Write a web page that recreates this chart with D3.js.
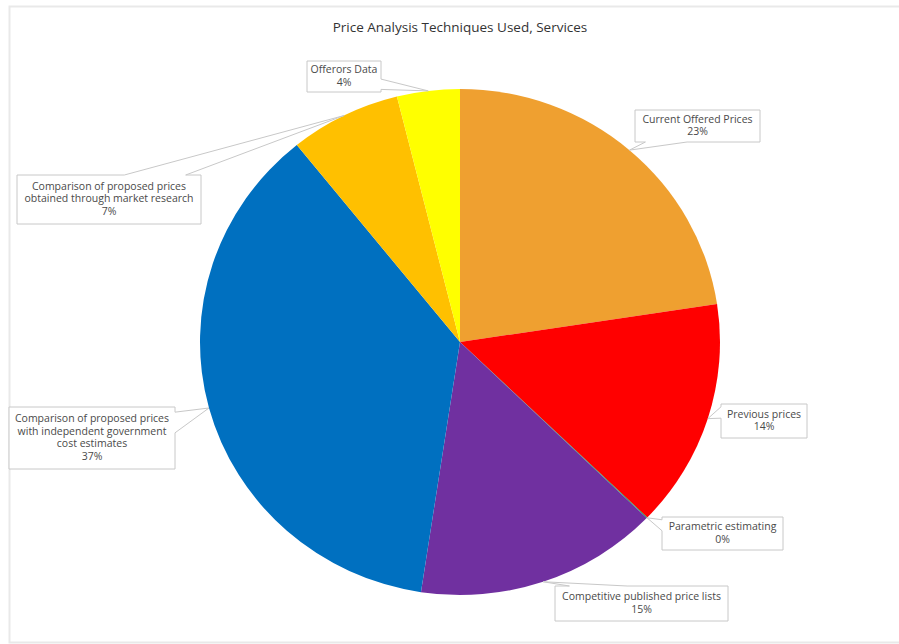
<!DOCTYPE html>
<html lang="en">
	<head>
		<meta charset="utf-8">
		<title>Price Analysis Techniques Used, Services</title>
		<script type="text/javascript" src="https://d3js.org/d3.v7.min.js"></script>
		<style type="text/css">
			body { margin: 0; background: #fff; }
			text { font-family: "Open Sans", "Liberation Sans", sans-serif; }
		</style>
	</head>
	<body>
		<script type="text/javascript">

			// data, clockwise from 12 o'clock
			var categories = ["Current Offered Prices", "Previous prices", "Parametric estimating",
				"Competitive published price lists",
				"Comparison of proposed prices with independent government cost estimates",
				"Comparison of proposed prices obtained through market research", "Offerors Data"];
			var values = [22.6, 14.6, 0.05, 15.15, 36.8, 6.9, 3.9];
			var colors = ["#EFA030", "#FF0000", "#00B050", "#7030A0", "#0070C0", "#FFC000", "#FFFF00"];
			var labelLines = [
				["Current Offered Prices"],
				["Previous prices"],
				["Parametric estimating"],
				["Competitive published price lists"],
				["Comparison of proposed prices", "with independent government", "cost estimates"],
				["Comparison of proposed prices", "obtained through market research"],
				["Offerors Data"]
			];
			var pctLabels = ["23%", "14%", "0%", "15%", "37%", "7%", "4%"];

			// label box layout [x, y, w, h]
			var boxes = [
				[635, 110, 125, 32],
				[721, 404, 86, 34],
				[662, 517, 121, 33],
				[555, 586, 173, 35],
				[9, 407, 166, 62],
				[17, 175, 184, 49],
				[307, 61, 74, 31]
			];

			var w = 899, h = 644;
			var cx = 460, cy = 342, rx = 260, ry = 253;

			var svg = d3.select("body").append("svg")
				.attr("width", w)
				.attr("height", h);

			svg.append("rect")
				.attr("x", 9.5).attr("y", 6.5)
				.attr("width", 900).attr("height", 636)
				.attr("fill", "none")
				.attr("stroke", "#e9e9e9")
				.attr("stroke-width", 2);

			svg.append("text")
				.attr("x", cx).attr("y", 32)
				.attr("text-anchor", "middle")
				.attr("font-size", "13.5px")
				.attr("fill", "#333")
				.text("Price Analysis Techniques Used, Services");

			var pie = d3.pie().sort(null).value(function(d) { return d; });
			var arcs = pie(values);
			var arc = d3.arc().innerRadius(0).outerRadius(ry);

			var g = svg.append("g")
				.attr("transform", "translate(" + cx + "," + cy + ") scale(" + (rx / ry) + ",1)");

			g.selectAll("path")
				.data(arcs)
				.enter()
				.append("path")
				.attr("d", arc)
				.attr("fill", function(d, i) { return colors[i]; });

			// tip of each callout: slice mid angle on the outer edge
			function tip(d) {
				var a = (d.startAngle + d.endAngle) / 2;
				return [cx + rx * Math.sin(a), cy - ry * Math.cos(a)];
			}

			// rectangle callout with a wedge pointing at the tip
			function callout(b, t) {
				var x0 = b[0], y0 = b[1], bw = b[2], bh = b[3];
				var x1 = x0 + bw, y1 = y0 + bh;
				var dx = t[0] - (x0 + bw / 2), dy = t[1] - (y0 + bh / 2);
				var p = d3.path();
				var horiz = Math.abs(dx) * bh < Math.abs(dy) * bw; // wedge on top/bottom
				var a1, a2;
				if (horiz) {
					a1 = dx > 0 ? x0 + bw * 7 / 12 : x0 + bw / 12;
					a2 = dx > 0 ? x0 + bw * 11 / 12 : x0 + bw * 5 / 12;
				} else {
					a1 = dy > 0 ? y0 + bh * 7 / 12 : y0 + bh / 12;
					a2 = dy > 0 ? y0 + bh * 11 / 12 : y0 + bh * 5 / 12;
				}
				p.moveTo(x0, y0);
				if (horiz && dy < 0) { p.lineTo(a1, y0); p.lineTo(t[0], t[1]); p.lineTo(a2, y0); }
				p.lineTo(x1, y0);
				if (!horiz && dx > 0) { p.lineTo(x1, a1); p.lineTo(t[0], t[1]); p.lineTo(x1, a2); }
				p.lineTo(x1, y1);
				if (horiz && dy > 0) { p.lineTo(a2, y1); p.lineTo(t[0], t[1]); p.lineTo(a1, y1); }
				p.lineTo(x0, y1);
				if (!horiz && dx < 0) { p.lineTo(x0, a2); p.lineTo(t[0], t[1]); p.lineTo(x0, a1); }
				p.closePath();
				return p.toString();
			}

			var labels = svg.selectAll("g.label")
				.data(arcs)
				.enter()
				.append("g")
				.attr("class", "label");

			labels.append("path")
				.attr("d", function(d, i) { return callout(boxes[i], tip(d)); })
				.attr("fill", "#fff")
				.attr("stroke", "#c8c8c8")
				.attr("stroke-width", 1);

			labels.append("text")
				.attr("text-anchor", "middle")
				.attr("font-size", "10.5px")
				.attr("fill", "#4a4a4a")
				.each(function(d, i) {
					var b = boxes[i];
					var lines = labelLines[i].concat([pctLabels[i]]);
					var lh = 12.5;
					var top = b[1] + b[3] / 2 - (lines.length * lh) / 2 + 9;
					var t = d3.select(this);
					lines.forEach(function(s, k) {
						t.append("tspan")
							.attr("x", b[0] + b[2] / 2)
							.attr("y", top + k * lh)
							.text(s);
					});
				});

		</script>
	</body>
</html>
